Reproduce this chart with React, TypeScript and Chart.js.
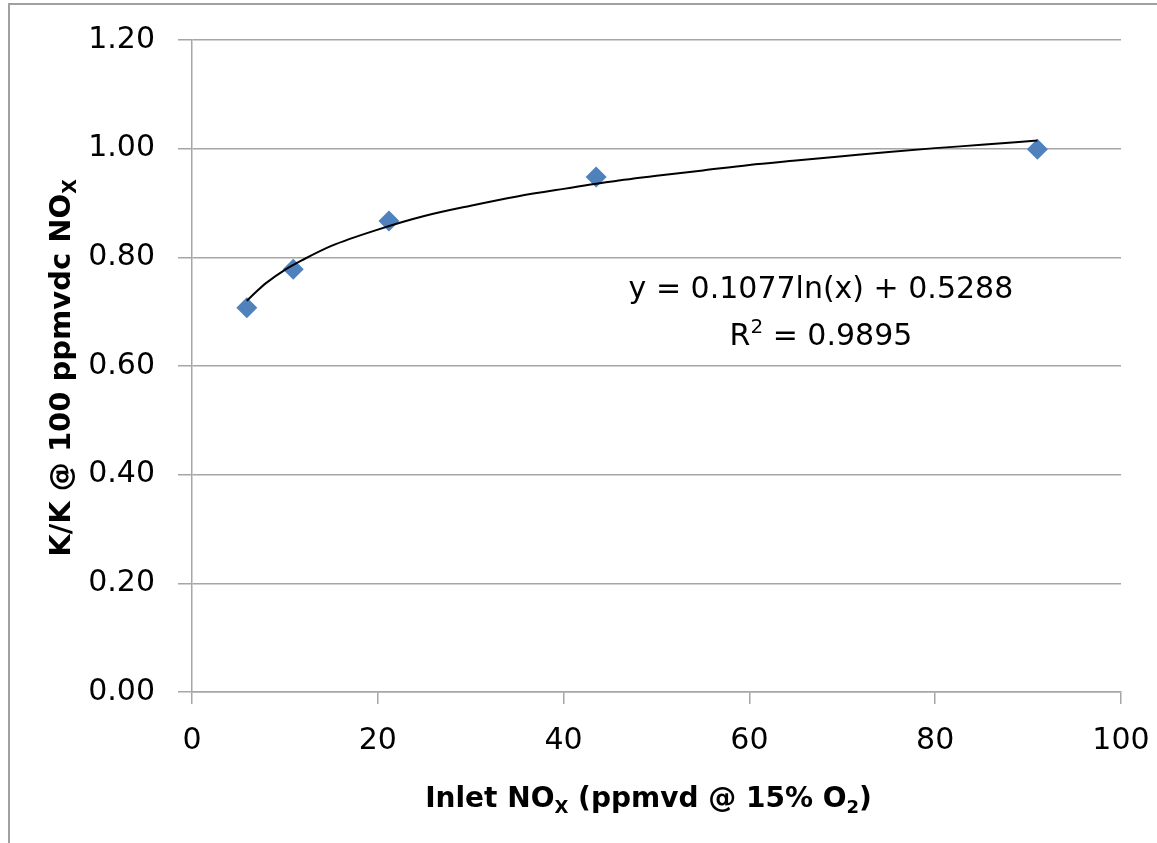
import React, { useEffect, useRef } from 'react';
import { Chart, registerables } from 'chart.js';

Chart.register(...registerables);

// Measured data points (Inlet NOx, K/K@100)
const pointX = [5.9, 10.9, 21.2, 43.5, 91.0];
const pointY = [0.707, 0.778, 0.867, 0.948, 0.999];

// Logarithmic trendline
const trendX = [5.9, 7, 8, 10, 12, 15, 20, 25, 30, 35, 40, 45, 50, 55, 60, 65, 70, 75, 80, 85, 91];
const trendY = [0.72, 0.738, 0.753, 0.777, 0.796, 0.821, 0.851, 0.876, 0.895, 0.912, 0.926, 0.939, 0.95, 0.96, 0.97, 0.978, 0.986, 0.994, 1.001, 1.007, 1.015];

const xTickValues = [0, 20, 40, 60, 80, 100];
const yTickValues = [0, 0.2, 0.4, 0.6, 0.8, 1.0, 1.2];

const equationLine = 'y = 0.1077ln(x) + 0.5288';
const r2Value = '0.9895';

type Part = { t: string; sub?: boolean; sup?: boolean };

const xTitleParts: Part[] = [
  { t: 'Inlet NO' },
  { t: 'X', sub: true },
  { t: ' (ppmvd @ 15% O' },
  { t: '2', sub: true },
  { t: ')' },
];
const yTitleParts: Part[] = [
  { t: 'K/K @ 100 ppmvdc NO' },
  { t: 'X', sub: true },
];
const r2Parts: Part[] = [{ t: 'R' }, { t: '2', sup: true }, { t: ' = ' + r2Value }];

function drawRich(
  ctx: CanvasRenderingContext2D,
  parts: Part[],
  cx: number,
  baseline: number,
  size: number,
  weight: string,
  family: string
) {
  const fontFor = (p: Part) => `${weight} ${p.sub || p.sup ? Math.round(size * 0.66) : size}px ${family}`;
  let total = 0;
  const widths = parts.map((p) => {
    ctx.font = fontFor(p);
    const w = ctx.measureText(p.t).width;
    total += w;
    return w;
  });
  let x = cx - total / 2;
  ctx.textAlign = 'left';
  ctx.textBaseline = 'alphabetic';
  parts.forEach((p, i) => {
    ctx.font = fontFor(p);
    let y = baseline;
    if (p.sub) y += size * 0.2;
    if (p.sup) y -= size * 0.38;
    ctx.fillText(p.t, x, y);
    x += widths[i];
  });
}

const decorPlugin = {
  id: 'decor',
  beforeDraw(chart: any) {
    const ctx = chart.ctx as CanvasRenderingContext2D;
    ctx.save();
    ctx.fillStyle = '#ffffff';
    ctx.fillRect(0, 0, chart.width, chart.height);
    ctx.strokeStyle = '#a0a0a0';
    ctx.lineWidth = 2;
    ctx.strokeRect(9, 4, chart.width + 20, chart.height + 20);
    ctx.restore();
  },
  afterDraw(chart: any) {
    const ctx = chart.ctx as CanvasRenderingContext2D;
    const area = chart.chartArea;
    const xs = chart.scales.x;
    const ys = chart.scales.y;
    ctx.save();
    ctx.fillStyle = '#000000';
    // x axis title
    drawRich(ctx, xTitleParts, (area.left + area.right) / 2 - 8, area.bottom + 115, 28, 'bold', '"DejaVu Sans"');
    // y axis title
    ctx.save();
    ctx.translate(area.left - 122, (area.top + area.bottom) / 2 + 2);
    ctx.rotate(-Math.PI / 2);
    drawRich(ctx, yTitleParts, 0, 0, 29, 'bold', '"DejaVu Sans"');
    ctx.restore();
    // trendline equation
    const ex = xs.getPixelForValue(67.7);
    drawRich(ctx, [{ t: equationLine }], ex, ys.getPixelForValue(0.725), 30, 'normal', '"DejaVu Sans"');
    drawRich(ctx, r2Parts, ex, ys.getPixelForValue(0.639), 30, 'normal', '"DejaVu Sans"');
    ctx.restore();
  },
};

export default function App() {
  const canvasRef = useRef<HTMLCanvasElement | null>(null);

  useEffect(() => {
    if (!canvasRef.current) return;
    const gridColor = '#a6a6a6';
    const chart = new Chart(canvasRef.current, {
      type: 'scatter',
      data: {
        datasets: [
          {
            label: 'Log trendline',
            data: trendX.map((x, i) => ({ x, y: trendY[i] })),
            showLine: true,
            borderColor: '#000000',
            borderWidth: 2,
            pointRadius: 0,
            cubicInterpolationMode: 'monotone',
            fill: false,
          },
          {
            label: 'K/K @ 100 ppmvdc NOx',
            data: pointX.map((x, i) => ({ x, y: pointY[i] })),
            pointStyle: 'rectRot',
            pointRadius: 10.5,
            backgroundColor: '#4f81bd',
            borderColor: '#4f81bd',
            borderWidth: 0,
            showLine: false,
          },
        ],
      },
      options: {
        responsive: false,
        animation: false,
        layout: { padding: { left: 0, right: 36, top: 40, bottom: 0 } },
        plugins: {
          legend: { display: false },
          tooltip: { enabled: false },
          title: { display: false },
        },
        scales: {
          x: {
            type: 'linear',
            min: 0,
            max: 100,
            afterBuildTicks: (s: any) => {
              s.ticks = xTickValues.map((v) => ({ value: v }));
            },
            afterFit: (s: any) => {
              s.height = 151;
              s.paddingLeft = 0;
              s.paddingRight = 0;
            },
            ticks: {
              color: '#000000',
              padding: 19,
              font: { family: '"DejaVu Sans"', size: 30 },
              callback: (v: any) => String(v),
              maxRotation: 0,
            },
            grid: {
              drawOnChartArea: false,
              drawTicks: true,
              tickLength: 12,
              color: gridColor,
              lineWidth: 1.5,
            },
            border: { display: true, color: gridColor, width: 1.5 },
            title: { display: false },
          },
          y: {
            type: 'linear',
            min: 0,
            max: 1.2,
            afterBuildTicks: (s: any) => {
              s.ticks = yTickValues.map((v) => ({ value: v }));
            },
            afterFit: (s: any) => {
              s.width = 192;
              s.paddingTop = 0;
              s.paddingBottom = 0;
            },
            ticks: {
              color: '#000000',
              padding: 23,
              font: { family: '"DejaVu Sans"', size: 30 },
              callback: (v: any) => Number(v).toFixed(2),
            },
            grid: {
              drawOnChartArea: true,
              drawTicks: true,
              tickLength: 14,
              color: gridColor,
              lineWidth: 1.5,
            },
            border: { display: true, color: gridColor, width: 1.5 },
            title: { display: false },
          },
        },
      },
      plugins: [decorPlugin],
    } as any);
    return () => chart.destroy();
  }, []);

  return (
    <div style={{ position: 'absolute', left: 0, top: 0, width: 1157, height: 843 }}>
      <canvas ref={canvasRef} width={1157} height={843} style={{ display: 'block', width: 1157, height: 843 }} />
    </div>
  );
}
